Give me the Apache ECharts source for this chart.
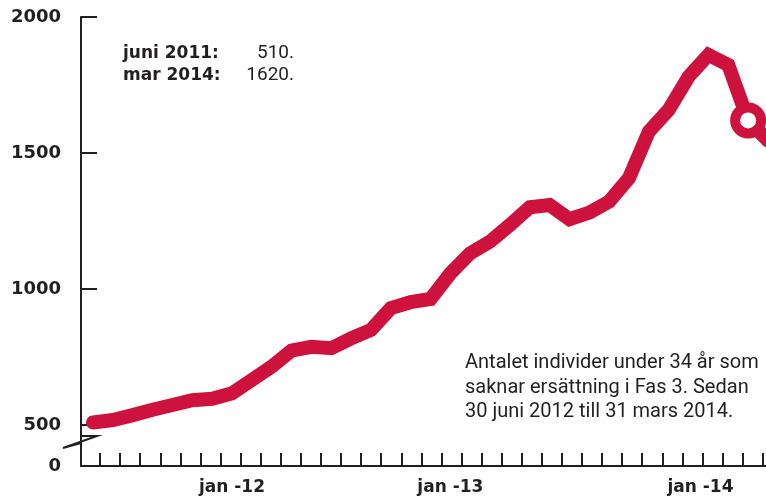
<!DOCTYPE html>
<html>
<head>
<meta charset="utf-8">
<script src="https://cdn.jsdelivr.net/npm/echarts@6/dist/echarts.min.js"></script>
<style>
  html, body { margin: 0; padding: 0; background: #fff; }
  #main { width: 766px; height: 499px; }
</style>
</head>
<body>
<div id="main"></div>
<script>
// månader, juni 2011 - april 2014
var months = [
  'jun 2011', 'jul 2011', 'aug 2011', 'sep 2011', 'okt 2011', 'nov 2011', 'dec 2011',
  'jan 2012', 'feb 2012', 'mar 2012', 'apr 2012', 'maj 2012', 'jun 2012', 'jul 2012',
  'aug 2012', 'sep 2012', 'okt 2012', 'nov 2012', 'dec 2012',
  'jan 2013', 'feb 2013', 'mar 2013', 'apr 2013', 'maj 2013', 'jun 2013', 'jul 2013',
  'aug 2013', 'sep 2013', 'okt 2013', 'nov 2013', 'dec 2013',
  'jan 2014', 'feb 2014', 'mar 2014', 'apr 2014'
];
var antal = [
  510, 519, 537, 557, 574, 592, 597,
  617, 666, 715, 774, 788, 783, 819,
  850, 930, 952, 964, 1058,
  1132, 1175, 1236, 1301, 1309, 1257, 1281,
  1322, 1408, 1579, 1659, 1781,
  1861, 1824, 1620, 1546
];
var markMonth = 'mar 2014';

var yTicks = [500, 1000, 1500, 2000];
var yZero = 350;            // axeln är bruten, botten märks "0"
var xLabels = ['jan -12', 'jan -13', 'jan -14'];
var xLabelPos = [7, 18, 30.6];

var red = '#cd123d';
var ink = '#231f20';

var lineData = antal.map(function (v, i) { return [i, v]; });
var mi = months.indexOf(markMonth);
var markData = [[mi, antal[mi]]];

var xTickPos = [];
for (var k = 0; k < 34; k++) xTickPos.push(0.353 + 1.0116 * k);

var chart = echarts.init(document.getElementById('main'));
chart.setOption({
  animation: false,
  grid: { left: 81, right: 0, top: 17, bottom: 33 },
  xAxis: {
    type: 'value',
    min: -0.605,
    max: 33.9,
    splitLine: { show: false },
    axisLine: { onZero: false, lineStyle: { color: ink, width: 2 } },
    axisTick: {
      show: true, inside: true, length: 13, customValues: xTickPos,
      lineStyle: { color: ink, width: 2 }
    },
    axisLabel: {
      customValues: xLabelPos,
      margin: 13,
      color: ink,
      fontFamily: 'DejaVu Sans',
      fontWeight: 'bold',
      fontSize: 17,
      formatter: function (v) {
        var j = xLabelPos.indexOf(v);
        return j >= 0 ? xLabels[j] : '';
      }
    }
  },
  yAxis: {
    type: 'value',
    min: yZero,
    max: 2000,
    splitLine: { show: false },
    axisLine: { show: true, onZero: false, lineStyle: { color: ink, width: 2 } },
    axisTick: {
      show: true, inside: true, length: 16, customValues: yTicks,
      lineStyle: { color: ink, width: 2 }
    },
    axisLabel: {
      customValues: [yZero].concat(yTicks),
      margin: 20,
      padding: [10, 0, 0, 0],
      color: ink,
      fontFamily: 'DejaVu Sans',
      fontWeight: 'bold',
      fontSize: 18,
      formatter: function (v) { return v === yZero ? '0' : String(v); }
    }
  },
  series: [
    {
      type: 'line',
      data: lineData,
      clip: false,
      symbol: 'none',
      lineStyle: { color: red, width: 14, cap: 'round', join: 'miter' },
      z: 3
    },
    {
      type: 'scatter',
      data: markData,
      symbol: 'circle',
      symbolSize: 26,
      itemStyle: { color: '#fff', borderColor: red, borderWidth: 10, opacity: 1 },
      z: 4
    }
  ],
  graphic: [
    {
      type: 'polyline',
      shape: { points: [[81, 436], [97, 436], [63, 448], [81, 443]] },
      style: { stroke: ink, lineWidth: 2, fill: null },
      z: 10
    },
    {
      type: 'text', left: 123, top: 45,
      style: { text: 'juni 2011:', fill: ink, font: 'bold 17px "DejaVu Sans"' }
    },
    {
      type: 'text', left: 123, top: 67,
      style: { text: 'mar 2014:', fill: ink, font: 'bold 17px "DejaVu Sans"' }
    },
    {
      type: 'text', right: 472, top: 44,
      style: { text: '510.', fill: ink, font: '19px Roboto', align: 'right' }
    },
    {
      type: 'text', right: 472, top: 66,
      style: { text: '1620.', fill: ink, font: '19px Roboto', align: 'right' }
    },
    {
      type: 'text', left: 465, top: 351,
      style: {
        text: 'Antalet individer under 34 år som\nsaknar ersättning i Fas 3. Sedan\n30 juni 2012 till 31 mars 2014.',
        fill: ink, font: '20px Roboto', lineHeight: 24.5
      }
    }
  ]
});
</script>
</body>
</html>
